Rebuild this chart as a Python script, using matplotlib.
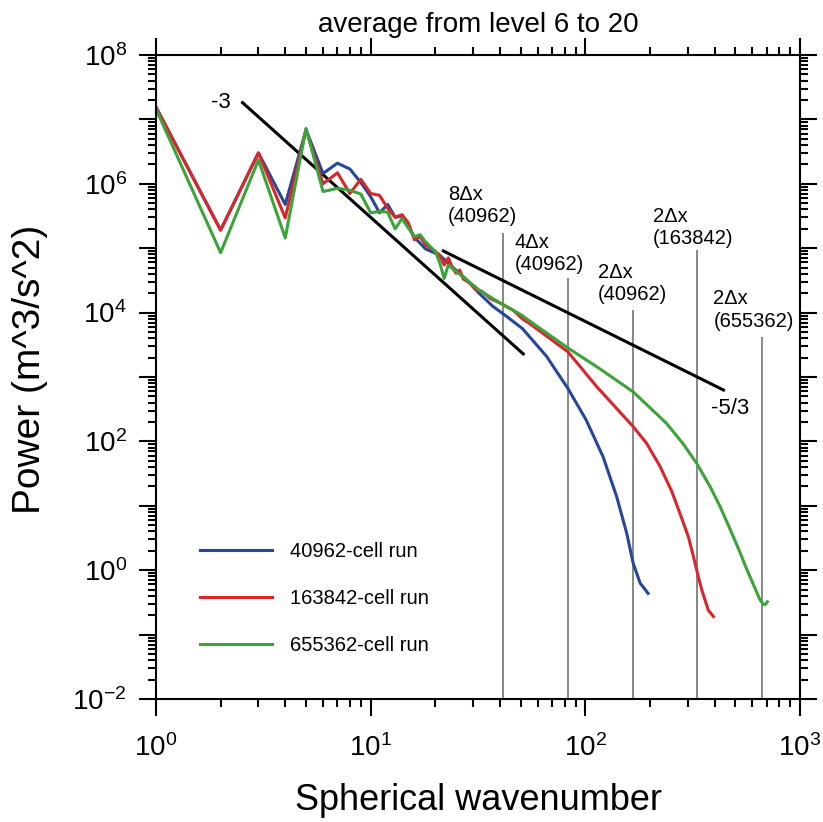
import numpy as np
import matplotlib.pyplot as plt
from matplotlib.ticker import LogLocator, FuncFormatter, NullFormatter

plt.rcParams['font.family'] = ['Liberation Sans', 'DejaVu Sans']
plt.rcParams['mathtext.fontset'] = 'custom'
plt.rcParams['mathtext.rm'] = 'Liberation Sans'

# kinetic energy spectra, log10(power)
k_40962 = [1, 2, 3, 4, 5, 6, 7, 8, 9, 10, 11, 12, 13, 14, 15, 16, 18, 21, 24,
           28, 32, 37, 43, 51, 66, 83, 101, 121, 140, 156, 167, 180, 196]
logp_40962 = [7.19, 5.28, 6.48, 5.68, 6.84, 6.16, 6.32, 6.23, 6.02, 5.80, 5.55,
              5.68, 5.48, 5.50, 5.33, 5.17, 4.99, 4.89, 4.71, 4.51, 4.30, 4.10,
              3.94, 3.75, 3.32, 2.82, 2.33, 1.76, 1.14, 0.57, 0.11, -0.20, -0.36]

k_163842 = [1, 2, 3, 4, 5, 6, 7, 8, 9, 10, 11, 12, 13, 14, 15, 16, 17, 18, 19,
            20, 21, 22, 23, 24, 25, 26, 27, 29, 31, 33, 36, 40, 46, 51, 55, 83,
            113, 167, 193, 223, 253, 276, 302, 319, 336, 349, 374, 395]
logp_163842 = [7.19, 5.28, 6.48, 5.47, 6.84, 6.00, 6.17, 5.85, 6.07, 5.85, 5.82,
               5.62, 5.48, 5.52, 5.39, 5.13, 5.18, 5.05, 5.00, 4.95, 4.89, 4.74,
               4.85, 4.70, 4.61, 4.66, 4.52, 4.46, 4.35, 4.33, 4.22, 4.15, 4.04,
               3.90, 3.83, 3.39, 2.85, 2.23, 1.97, 1.61, 1.22, 0.88, 0.52, 0.21,
               -0.10, -0.31, -0.62, -0.72]

k_655362 = [1, 2, 3, 4, 5, 6, 7, 8, 9, 10, 11, 12, 13, 14, 15, 16, 17, 18, 19,
            20, 21, 22, 23, 25, 28, 32, 37, 43, 50, 60, 83, 113, 167, 239, 286,
            330, 381, 424, 472, 525, 564, 606, 651, 675, 690, 705]
logp_655362 = [7.16, 4.93, 6.37, 5.16, 6.86, 5.88, 5.93, 5.90, 5.84, 5.55, 5.57,
               5.56, 5.30, 5.46, 5.31, 5.18, 5.21, 5.10, 5.02, 4.95, 4.77, 4.53,
               4.74, 4.64, 4.51, 4.35, 4.22, 4.09, 3.97, 3.78, 3.45, 3.16, 2.77,
               2.28, 1.96, 1.66, 1.30, 0.99, 0.64, 0.28, 0.02, -0.22, -0.46,
               -0.53, -0.53, -0.49]

run_labels = ['40962-cell run', '163842-cell run', '655362-cell run']
run_colors = ['#25479a', '#d8262b', '#3ba33a']

# reference slopes (end points)
k_m3 = [2.53, 51.4]
p_m3 = [1.82e7, 2.28e3]
k_m53 = [21.8, 440]
p_m53 = [9.06e4, 6.28e2]

# resolution markers
k_marks = [41.5, 83, 166, 331, 665]
p_mark_top = [1.72e5, 3.44e4, 1.10e4, 9.3e4, 4.2e3]
mark_labels = ['8\u0394x\n(40962)', '4\u0394x\n(40962)', '2\u0394x\n(40962)',
               '2\u0394x\n(163842)', '2\u0394x\n(655362)']
mark_label_x = [22.9, 47.0, 114.6, 206.6, 394.7]
mark_label_y = [4.6e5, 8.3e4, 2.83e4, 2.09e5, 1.1e4]

fig = plt.figure(figsize=(8.23, 8.22), dpi=100)
ax = fig.add_axes([156/823, 123/822, 644/823, 644/822])

ax.vlines(k_marks, 1e-2, p_mark_top, colors='0.45', lw=1.2)
for lx, ly, txt in zip(mark_label_x, mark_label_y, mark_labels):
    ax.text(lx, ly, txt, ha='left', va='center', fontsize=14.5, linespacing=1.25)

ax.plot(k_m3, p_m3, color='k', lw=2.2)
ax.plot(k_m53, p_m53, color='k', lw=2.2)
ax.text(2.0, 1.86e7, '-3', ha='center', va='center', fontsize=16)
ax.text(472, 3.2e2, '-5/3', ha='center', va='center', fontsize=16)

for k, lp, lab, c in zip([k_40962, k_163842, k_655362],
                         [logp_40962, logp_163842, logp_655362],
                         run_labels, run_colors):
    ax.plot(k, 10 ** np.array(lp), color=c, lw=2.2, label=lab)

ax.set_xscale('log')
ax.set_yscale('log')
ax.set_xlim(1, 1000)
ax.set_ylim(1e-2, 1e8)

ax.yaxis.set_major_locator(LogLocator(base=10, numticks=20))
ax.yaxis.set_minor_locator(LogLocator(base=10, subs=np.arange(2, 10), numticks=20))
ax.yaxis.set_major_formatter(FuncFormatter(
    lambda v, pos: r'$\mathregular{10^{%d}}$' % round(np.log10(v))
    if round(np.log10(v)) % 2 == 0 else ''))
ax.yaxis.set_minor_formatter(NullFormatter())
ax.xaxis.set_major_formatter(FuncFormatter(
    lambda v, pos: r'$\mathregular{10^{%d}}$' % round(np.log10(v))))

ax.tick_params(which='both', direction='out', top=True, right=True, width=1.5)
ax.tick_params(which='major', length=12, labelsize=20, pad=9)
ax.tick_params(axis='x', which='major', pad=13)
ax.tick_params(which='minor', length=6)
for s in ax.spines.values():
    s.set_linewidth(1.5)

ax.set_xlabel('Spherical wavenumber', fontsize=26)
ax.xaxis.set_label_coords(0.5, -0.157)
ax.xaxis.label.set_va('center')
ax.set_ylabel('Power (m^3/s^2)', fontsize=28)
ax.yaxis.set_label_coords(-0.196, 0.512)
ax.yaxis.label.set_va('center')
ax.set_title('average from level 6 to 20', fontsize=20, y=1.0362, pad=0)

ax.legend(loc='upper left', bbox_to_anchor=(0.0683, 0.244), frameon=False,
          fontsize=14.5, handlelength=3.6, handletextpad=0.86, labelspacing=1.4,
          borderpad=0, borderaxespad=0)

plt.savefig('out.png')
